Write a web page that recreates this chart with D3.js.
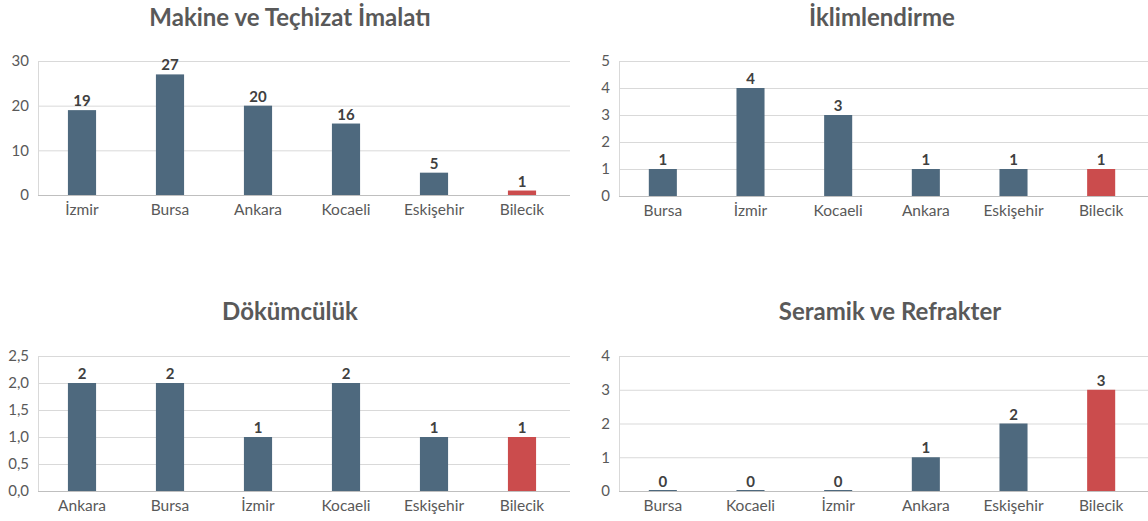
<!DOCTYPE html>
<html>
<head>
<meta charset="utf-8">
<script src="https://cdn.jsdelivr.net/npm/d3@7"></script>
<style>
  body { margin: 0; background: #fff; }
  svg text { font-family: Lato, "Open Sans", sans-serif; }
</style>
</head>
<body>
<svg id="chart" width="1148" height="521"></svg>
<script>
// Panel data
const makineCities = ['İzmir', 'Bursa', 'Ankara', 'Kocaeli', 'Eskişehir', 'Bilecik'];
const makineValues = [19, 27, 20, 16, 5, 1];
const makineTicks = [0, 10, 20, 30];

const iklimCities = ['Bursa', 'İzmir', 'Kocaeli', 'Ankara', 'Eskişehir', 'Bilecik'];
const iklimValues = [1, 4, 3, 1, 1, 1];
const iklimTicks = [0, 1, 2, 3, 4, 5];

const dokumCities = ['Ankara', 'Bursa', 'İzmir', 'Kocaeli', 'Eskişehir', 'Bilecik'];
const dokumValues = [2, 2, 1, 2, 1, 1];
const dokumTicks = [0, 0.5, 1, 1.5, 2, 2.5];

const seramikCities = ['Bursa', 'Kocaeli', 'İzmir', 'Ankara', 'Eskişehir', 'Bilecik'];
const seramikValues = [0, 0, 0, 1, 2, 3];
const seramikTicks = [0, 1, 2, 3, 4];

const highlight = 'Bilecik';

const svg = d3.select('#chart');

// draw one small bar chart
function drawPanel(opts) {
  const { title, cities, values, ticks, left, right, top, bottom, titleX, titleY, fmt } = opts;

  const g = svg.append('g');

  const x = d3.scaleBand()
    .domain(cities)
    .range([left, right])
    .paddingInner(0.68)
    .paddingOuter(0.34);

  const y = d3.scaleLinear()
    .domain([0, d3.max(ticks)])
    .range([bottom, top]);

  // gridlines + y labels
  const yAxis = g.append('g')
    .attr('transform', `translate(${left},0)`)
    .call(d3.axisLeft(y).tickValues(ticks).tickSize(-(right - left + 4)).tickPadding(9).tickFormat(fmt));
  yAxis.select('.domain').remove();
  yAxis.selectAll('.tick line')
    .attr('stroke', d => d === 0 ? '#bfbfbf' : '#d9d9d9')
    .attr('stroke-width', 1);
  yAxis.selectAll('.tick text')
    .attr('fill', '#595959')
    .style('font-size', '15px');

  // left axis line
  g.append('line')
    .attr('x1', left + 0.5).attr('x2', left + 0.5)
    .attr('y1', y(d3.max(ticks))).attr('y2', y(0))
    .attr('stroke', '#d9d9d9');

  // x labels
  const xAxis = g.append('g')
    .attr('transform', `translate(0,${bottom})`)
    .call(d3.axisBottom(x).tickSize(0).tickPadding(9));
  xAxis.select('.domain').remove();
  xAxis.selectAll('.tick text')
    .attr('fill', '#595959')
    .style('font-size', '15.5px');

  const data = cities.map((c, i) => ({ city: c, value: values[i] }));

  // bars
  g.selectAll('.bar')
    .data(data)
    .enter()
    .append('rect')
    .attr('class', 'bar')
    .attr('x', d => x(d.city))
    .attr('width', x.bandwidth())
    .attr('y', d => d.value === 0 ? y(0) - 1 : y(d.value))
    .attr('height', d => d.value === 0 ? 1 : y(0) - y(d.value))
    .attr('fill', d => d.city === highlight ? '#cb4c4d' : '#4e697e');

  // value labels
  g.selectAll('.val')
    .data(data)
    .enter()
    .append('text')
    .attr('class', 'val')
    .attr('x', d => x(d.city) + x.bandwidth() / 2)
    .attr('y', d => y(d.value) - 4)
    .attr('text-anchor', 'middle')
    .attr('fill', '#404040')
    .style('font-size', '15px')
    .style('font-weight', 'bold')
    .text(d => d.value);

  // title
  g.append('text')
    .attr('x', titleX)
    .attr('y', titleY)
    .attr('text-anchor', 'middle')
    .attr('fill', '#595959')
    .style('font-size', '24px')
    .style('font-weight', 'bold')
    .text(title);
}

const intFmt = d3.format('d');
const commaFmt = d => d3.format('.1f')(d).replace('.', ',');

drawPanel({ title: 'Makine ve Teçhizat İmalatı', cities: makineCities, values: makineValues, ticks: makineTicks,
  left: 38, right: 566, top: 61, bottom: 195, titleX: 290, titleY: 26, fmt: intFmt });
drawPanel({ title: 'İklimlendirme', cities: iklimCities, values: iklimValues, ticks: iklimTicks,
  left: 619, right: 1145, top: 61, bottom: 196, titleX: 882, titleY: 26, fmt: intFmt });
drawPanel({ title: 'Dökümcülük', cities: dokumCities, values: dokumValues, ticks: dokumTicks,
  left: 38, right: 566, top: 356, bottom: 491, titleX: 290, titleY: 320, fmt: commaFmt });
drawPanel({ title: 'Seramik ve Refrakter', cities: seramikCities, values: seramikValues, ticks: seramikTicks,
  left: 619, right: 1145, top: 356, bottom: 491, titleX: 890, titleY: 320, fmt: intFmt });
</script>
</body>
</html>
